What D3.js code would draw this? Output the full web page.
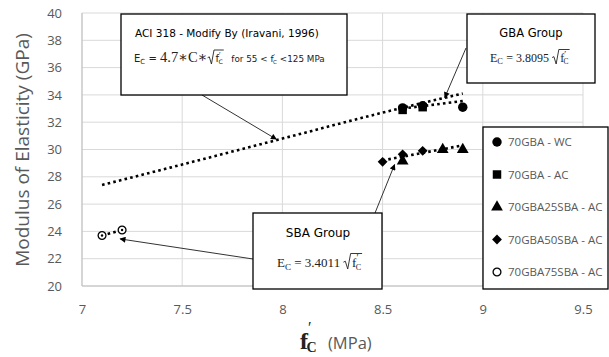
<!DOCTYPE html>
<html>
<head>
<meta charset="utf-8">
<script src="https://cdn.jsdelivr.net/npm/d3@7"></script>
<style>
  body { margin: 0; background: #fff; }
  svg { display: block; }
</style>
</head>
<body>
<div id="chart"></div>
<script>
// data
const xTicks = [7, 7.5, 8, 8.5, 9, 9.5];
const yTicks = [20, 22, 24, 26, 28, 30, 32, 34, 36, 38, 40];

const gbaWC = [[8.6, 33.05], [8.7, 33.2], [8.9, 33.1]];
const gbaAC = [[8.6, 32.9], [8.7, 33.1]];
const sba25 = [[8.6, 29.15], [8.8, 30.0], [8.9, 30.0]];
const sba50 = [[8.5, 29.1], [8.6, 29.65], [8.7, 29.9]];
const sba75 = [[7.1, 23.7], [7.2, 24.1]];

const aciLine = [[7.1, 27.4], [7.5, 28.9], [8.0, 30.8], [8.5, 32.7], [8.9, 34.1]];
const gbaTrend = [[8.6, 33.0], [8.9, 33.55]];
const sbaTrend = [[8.5, 29.2], [8.9, 30.3]];
const sba75Trend = [[7.1, 23.7], [7.2, 24.1]];

const legendNames = ["70GBA - WC", "70GBA - AC", "70GBA25SBA - AC", "70GBA50SBA - AC", "70GBA75SBA - AC"];

const width = 609, height = 357;
const svg = d3.select("#chart").append("svg")
    .attr("width", width)
    .attr("height", height);

const x = d3.scaleLinear().domain([7, 9.5]).range([82, 583]);
const y = d3.scaleLinear().domain([20, 40]).range([286, 13]);

const gray = "#595959";
const font = "'Open Sans', sans-serif";
const serif = "'Liberation Serif', 'DejaVu Serif', serif";
const boxFont = "'DejaVu Sans', 'Open Sans', sans-serif";

// grid
const grid = svg.append("g");
grid.selectAll(".gy").data(yTicks).enter().append("line")
    .attr("x1", x(7)).attr("x2", x(9.5))
    .attr("y1", d => y(d)).attr("y2", d => y(d))
    .attr("stroke", "#d9d9d9").attr("stroke-width", 1);
grid.selectAll(".gx").data(xTicks).enter().append("line")
    .attr("x1", d => x(d)).attr("x2", d => x(d))
    .attr("y1", y(20)).attr("y2", y(40))
    .attr("stroke", "#d9d9d9").attr("stroke-width", 1);
grid.append("line").attr("x1", x(7)).attr("x2", x(7)).attr("y1", y(20)).attr("y2", y(40))
    .attr("stroke", "#bfbfbf");
grid.append("line").attr("x1", x(7)).attr("x2", x(9.5)).attr("y1", y(20)).attr("y2", y(20))
    .attr("stroke", "#bfbfbf");

// axes labels
const yAxis = d3.axisLeft(y).tickValues(yTicks).tickSize(0).tickPadding(20);
const gY = svg.append("g").attr("transform", `translate(${x(7)},0)`).call(yAxis);
gY.select(".domain").remove();
gY.selectAll("text").attr("fill", gray).style("font-family", font).style("font-size", "13px");

const xAxis = d3.axisBottom(x).tickValues(xTicks).tickSize(0).tickPadding(19).tickFormat(d3.format("~g"));
const gX = svg.append("g").attr("transform", `translate(0,${y(20)})`).call(xAxis);
gX.select(".domain").remove();
gX.selectAll("text").attr("fill", gray).style("font-family", font).style("font-size", "13px");

svg.append("text")
    .attr("transform", "translate(29,150) rotate(-90)")
    .attr("text-anchor", "middle")
    .attr("fill", gray)
    .style("font-family", font).style("font-size", "19px")
    .text("Modulus of Elasticity (GPa)");

// x title f'c (MPa)
const xt = svg.append("text").attr("x", 300).attr("y", 349).attr("fill", "#222")
    .style("font-family", serif).attr("font-weight", "bold");
xt.append("tspan").style("font-size", "24px").text("f");
xt.append("tspan").style("font-size", "16px").attr("font-weight", "normal").attr("dx", 0).attr("dy", -16).text("′");
xt.append("tspan").style("font-size", "14px").attr("dx", -5).attr("dy", 19).text("C");
svg.append("text").attr("x", 328).attr("y", 349)
    .attr("fill", gray).style("font-family", font).style("font-size", "16.5px").text("(MPa)");

// trendlines
const line = d3.line().x(d => x(d[0])).y(d => y(d[1])).curve(d3.curveMonotoneX);
[aciLine, gbaTrend, sbaTrend, sba75Trend].forEach(data => {
    svg.append("path").datum(data)
        .attr("d", line)
        .attr("fill", "none")
        .attr("stroke", "#000")
        .attr("stroke-width", 2.6)
        .attr("stroke-dasharray", "2.6 3.2");
});

// markers
const sym = {
    circle: d3.symbol().type(d3.symbolCircle).size(70),
    square: d3.symbol().type(d3.symbolSquare).size(72),
    triangle: d3.symbol().type(d3.symbolTriangle).size(60),
    diamond: d3.symbol().type(d3.symbolSquare).size(48),
    open: d3.symbol().type(d3.symbolCircle).size(48)
};
const series = [
    { data: gbaWC, s: sym.circle, fill: "#000", rot: 0 },
    { data: gbaAC, s: sym.square, fill: "#000", rot: 0 },
    { data: sba25, s: sym.triangle, fill: "#000", rot: 0 },
    { data: sba50, s: sym.diamond, fill: "#000", rot: 45 },
    { data: sba75, s: sym.open, fill: "#fff", rot: 0 }
];
series.forEach(sr => {
    const g = svg.append("g");
    g.selectAll("path").data(sr.data).enter().append("path")
        .attr("transform", d => `translate(${x(d[0])},${y(d[1])}) rotate(${sr.rot})`)
        .attr("d", sr.s())
        .attr("fill", sr.fill)
        .attr("stroke", "#000")
        .attr("stroke-width", sr.fill === "#fff" ? 1.3 : 0);
    if (sr.fill === "#fff") {
        g.selectAll("circle").data(sr.data).enter().append("circle")
            .attr("cx", d => x(d[0])).attr("cy", d => y(d[1])).attr("r", 1.2).attr("fill", "#000");
    }
});

// arrow marker
svg.append("defs").append("marker")
    .attr("id", "arrow").attr("viewBox", "0 0 10 10")
    .attr("refX", 9).attr("refY", 5)
    .attr("markerWidth", 7).attr("markerHeight", 6)
    .attr("orient", "auto")
    .append("path").attr("d", "M0,0L10,5L0,10z").attr("fill", "#000");

function arrow(x1, y1, tx, ty) {
    svg.append("line").attr("x1", x1).attr("y1", y1)
        .attr("x2", x(tx)).attr("y2", y(ty))
        .attr("stroke", "#333").attr("stroke-width", 1)
        .attr("marker-end", "url(#arrow)");
}
arrow(202, 95, 7.97, 30.75);
arrow(466, 48, 8.81, 33.8);
arrow(375, 213, 8.56, 28.9);
arrow(253, 259, 7.19, 23.45);

function box(x0, y0, w, h) {
    svg.append("rect").attr("x", x0).attr("y", y0).attr("width", w).attr("height", h)
        .attr("fill", "#fff").attr("stroke", "#000").attr("stroke-width", 1.3);
}

// lays out formula pieces left to right, measuring each one
function formula(x0, base, parts) {
    let cx = x0;
    // plain run of text
    const put = (t, fam, size) => {
        const n = svg.append("text").attr("x", cx).attr("y", base)
            .style("font-family", fam).style("font-size", size + "px")
            .style("white-space", "pre")
            .attr("fill", "#222").text(t);
        return n.node().getBBox().width;
    };
    // letter with subscript C (and optional prime above), as one text
    const putSub = (q) => {
        const n = svg.append("text").attr("x", cx).attr("y", base)
            .style("font-family", q.fam).style("font-size", q.size + "px")
            .attr("fill", "#222");
        n.append("tspan").text(q.t);
        if (q.prime) {
            n.append("tspan").style("font-family", serif)
                .style("font-size", (q.size * 0.75) + "px")
                .attr("dy", -q.size * 0.45).text("′");
            n.append("tspan").style("font-size", (q.size * 0.62) + "px")
                .attr("dx", -q.size * 0.22).attr("dy", q.size * 0.65).text("C");
        } else {
            n.append("tspan").style("font-size", (q.size * 0.7) + "px")
                .attr("dy", q.size * 0.2).text("C");
        }
        return n.node().getBBox().width;
    };
    parts.forEach(p => {
        if (p.sub) {
            cx += putSub(p);
        } else if (p.sqrt) {
            const s = p.size / 14;
            const start = cx;
            cx += 8 * s + 1;
            p.sqrt.forEach(q => { cx += putSub(q); });
            cx += 1;
            svg.append("path")
                .attr("d", `M${start},${base - 5 * s}L${start + 2 * s},${base - 6 * s}L${start + 4.5 * s},${base + 2}L${start + 7.5 * s},${base - 14 * s}L${cx},${base - 14 * s}`)
                .attr("fill", "none").attr("stroke", "#222").attr("stroke-width", 0.9);
            cx += 2;
        } else {
            cx += put(p.t, p.fam, p.size) + (p.gap || 0);
        }
    });
    return cx;
}

// ACI box
box(121, 14, 226, 81);
svg.append("text").attr("x", 135).attr("y", 37)
    .style("font-family", boxFont).style("font-size", "10.5px").attr("fill", "#000")
    .text("ACI 318 - Modify By (Iravani, 1996)");
formula(134, 62, [
    { t: "E", fam: boxFont, size: 10, sub: true },
    { t: " = ", fam: boxFont, size: 10 },
    { t: "4.7∗C∗", fam: serif, size: 14.5 },
    { sqrt: [{ t: "f", fam: boxFont, size: 10, prime: true }], size: 12 },
    { t: "  for 55 < ", fam: boxFont, size: 8.8 },
    { t: "f", fam: boxFont, size: 8.8, sub: true, prime: true },
    { t: " <125 MPa", fam: boxFont, size: 8.8 }
]);

// GBA box
box(467, 14, 128, 69);
svg.append("text").attr("x", 531).attr("y", 37).attr("text-anchor", "middle")
    .style("font-family", boxFont).style("font-size", "11.5px").attr("fill", "#000").text("GBA Group");
formula(490, 62, [
    { t: "E", fam: serif, size: 12, sub: true },
    { t: " = 3.8095 ", fam: serif, size: 12 },
    { sqrt: [{ t: "f", fam: serif, size: 12, prime: true }], size: 12.5 }
]);

// SBA box
box(253, 213, 129, 76);
svg.append("text").attr("x", 318).attr("y", 237).attr("text-anchor", "middle")
    .style("font-family", boxFont).style("font-size", "12px").attr("fill", "#000").text("SBA Group");
formula(277, 267, [
    { t: "E", fam: serif, size: 13, sub: true },
    { t: " = 3.4011 ", fam: serif, size: 13 },
    { sqrt: [{ t: "f", fam: serif, size: 13, prime: true }], size: 13.5 }
]);

// legend
svg.append("rect").attr("x", 483).attr("y", 127).attr("width", 125).attr("height", 162)
    .attr("fill", "#fff").attr("stroke", "#000").attr("stroke-width", 1.3);
const legendSyms = [sym.circle, sym.square, sym.triangle, sym.diamond, sym.open];
const legendY = d3.scalePoint().domain(legendNames).range([142, 272]);
const lg = svg.append("g").selectAll("g").data(legendNames).enter().append("g")
    .attr("transform", d => `translate(0,${legendY(d)})`);
lg.append("path")
    .attr("transform", (d, i) => `translate(497,0) rotate(${i === 3 ? 45 : 0})`)
    .attr("d", (d, i) => legendSyms[i]())
    .attr("fill", (d, i) => i === 4 ? "#fff" : "#000")
    .attr("stroke", "#000")
    .attr("stroke-width", (d, i) => i === 4 ? 1.3 : 0);
lg.append("text").attr("x", 508).attr("y", 4)
    .attr("fill", gray)
    .style("font-family", font).style("font-size", "11.5px")
    .text(d => d);
</script>
</body>
</html>
